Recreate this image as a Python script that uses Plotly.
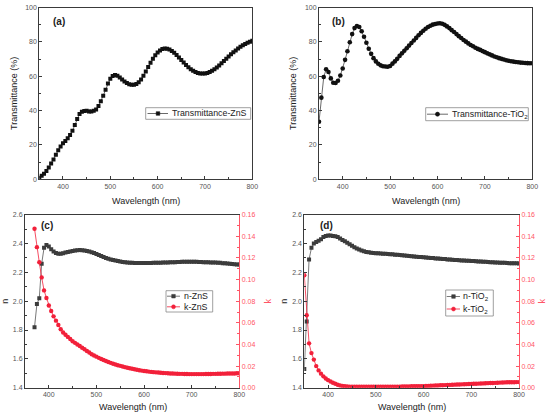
import plotly.graph_objects as go

# ---------------- data ----------------
wl_T = list(range(350, 805, 5))

T_ZnS = [0.8, 2.0, 3.2, 4.8, 6.8, 9.1, 11.5, 14.2, 16.9, 19.0,
         21.0, 22.2, 23.9, 25.8, 28.2, 31.6, 35.0, 38.0, 39.3, 39.7,
         39.8, 39.5, 39.4, 39.8, 40.6, 42.6, 45.4, 48.6, 52.1, 55.7,
         58.5, 60.1, 60.7, 60.3, 59.2, 58.1, 56.9, 56.0, 55.3, 55.0,
         55.0, 55.5, 56.5, 58.1, 60.2, 62.7, 65.3, 67.8, 70.2, 72.2,
         73.8, 75.0, 75.8, 76.1, 76.0, 75.5, 74.7, 73.6, 72.3, 70.9,
         69.4, 67.9, 66.5, 65.2, 64.1, 63.1, 62.4, 61.9, 61.6, 61.5,
         61.6, 61.9, 62.4, 63.1, 64.0, 65.0, 66.2, 67.5, 68.8, 70.1,
         71.4, 72.7, 73.9, 75.0, 76.1, 77.1, 78.0, 78.8, 79.5, 80.1,
         80.6]

T_TiO2 = [33.5, 47.5, 59.5, 64.0, 62.4, 58.7, 56.2, 56.0, 57.3, 60.4,
          64.5, 69.5, 74.5, 79.8, 84.5, 88.0, 89.2, 88.6, 86.2, 83.0,
          79.5, 76.0, 73.0, 70.5, 68.6, 67.2, 66.3, 65.8, 65.6, 65.5,
          65.9, 67.3, 68.6, 70.1, 71.8, 73.3, 74.8, 76.3, 77.8, 79.3,
          80.8, 82.3, 83.8, 85.2, 86.5, 87.6, 88.6, 89.4, 90.0, 90.4,
          90.7, 90.8, 90.5, 89.9, 89.0, 88.0, 86.8, 85.7, 84.5, 83.3,
          82.2, 81.1, 80.1, 79.1, 78.2, 77.4, 76.6, 75.9, 75.3, 74.6,
          74.0, 73.3, 72.7, 72.1, 71.5, 71.0, 70.5, 70.1, 69.7, 69.3,
          69.0, 68.7, 68.5, 68.3, 68.1, 67.9, 67.8, 67.7, 67.6, 67.5,
          67.5]

wl_ZnS = list(range(370, 805, 5))
n_ZnS = [1.82, 1.98, 2.02, 2.26, 2.37, 2.39, 2.38, 2.36, 2.345, 2.335,
         2.33, 2.33, 2.333, 2.337, 2.341, 2.345, 2.349, 2.352, 2.354, 2.355,
         2.354, 2.352, 2.349, 2.345, 2.340, 2.334, 2.327, 2.320, 2.313, 2.306,
         2.300, 2.295, 2.290, 2.286, 2.282, 2.278, 2.275, 2.272, 2.270, 2.268,
         2.267, 2.266, 2.265, 2.265, 2.265, 2.265, 2.265, 2.265, 2.265, 2.265,
         2.266, 2.266, 2.267, 2.267, 2.268, 2.268, 2.269, 2.270, 2.270, 2.271,
         2.272, 2.272, 2.273, 2.273, 2.273, 2.273, 2.273, 2.273, 2.273, 2.272,
         2.272, 2.271, 2.271, 2.270, 2.269, 2.269, 2.268, 2.267, 2.266, 2.264,
         2.263, 2.261, 2.260, 2.258, 2.257, 2.255, 2.254]
k_ZnS = [0.147, 0.130, 0.116, 0.102, 0.090, 0.083, 0.076, 0.071, 0.066, 0.062,
         0.058, 0.054, 0.051, 0.049, 0.047, 0.045, 0.043, 0.0415, 0.040, 0.0385,
         0.037, 0.0355, 0.034, 0.0325, 0.031, 0.0298, 0.0287, 0.0276, 0.0266, 0.0256,
         0.0247, 0.0238, 0.023, 0.0222, 0.0215, 0.0208, 0.0202, 0.0196, 0.019, 0.0185,
         0.018, 0.0175, 0.017, 0.0166, 0.0162, 0.0158, 0.0155, 0.0152, 0.0149, 0.0146,
         0.0144, 0.0142, 0.014, 0.0138, 0.0136, 0.0135, 0.0133, 0.0132, 0.0131, 0.013,
         0.0129, 0.0128, 0.0128, 0.0127, 0.0127, 0.0126, 0.0126, 0.0126, 0.0126, 0.0126,
         0.0126, 0.0126, 0.0127, 0.0127, 0.0127, 0.0128, 0.0128, 0.0129, 0.0129, 0.013,
         0.013, 0.0131, 0.0131, 0.0132, 0.0132, 0.0133, 0.0134]

wl_TiO2 = list(range(350, 805, 5))
n_TiO2 = [1.53, 1.86, 2.29, 2.37, 2.40, 2.41, 2.42, 2.43, 2.445, 2.453,
          2.455, 2.455, 2.453, 2.45, 2.445, 2.435, 2.425, 2.415, 2.405, 2.395,
          2.385, 2.375, 2.366, 2.358, 2.351, 2.346, 2.342, 2.339, 2.336, 2.334,
          2.333, 2.332, 2.331, 2.33, 2.329, 2.328, 2.326, 2.325, 2.323, 2.322,
          2.32, 2.318, 2.317, 2.315, 2.313, 2.312, 2.31, 2.309, 2.307, 2.306,
          2.305, 2.303, 2.302, 2.3, 2.299, 2.297, 2.296, 2.294, 2.293, 2.292,
          2.29, 2.289, 2.288, 2.286, 2.285, 2.284, 2.283, 2.282, 2.281, 2.28,
          2.279, 2.278, 2.277, 2.276, 2.275, 2.274, 2.273, 2.272, 2.271, 2.27,
          2.269, 2.268, 2.267, 2.266, 2.266, 2.265, 2.264, 2.264, 2.263, 2.263,
          2.262]
k_TiO2 = [0.104, 0.067, 0.041, 0.032, 0.026, 0.020, 0.016, 0.013, 0.0105, 0.0085,
          0.007, 0.0058, 0.0046, 0.0036, 0.0027, 0.002, 0.0016, 0.0013, 0.0011, 0.001,
          0.001, 0.001, 0.001, 0.001, 0.001, 0.001, 0.001, 0.001, 0.001, 0.001,
          0.001, 0.001, 0.001, 0.001, 0.001, 0.001, 0.001, 0.001, 0.001, 0.001,
          0.001, 0.0011, 0.0011, 0.0012, 0.0012, 0.0013, 0.0013, 0.0014, 0.0014, 0.0015,
          0.0015, 0.0016, 0.0017, 0.0018, 0.0019, 0.002, 0.0021, 0.0022, 0.0023, 0.0024,
          0.0025, 0.0026, 0.0027, 0.0028, 0.0029, 0.003, 0.0031, 0.0032, 0.0033, 0.0034,
          0.0035, 0.0036, 0.0037, 0.0038, 0.0039, 0.004, 0.0041, 0.0042, 0.0043, 0.0044,
          0.0045, 0.0046, 0.0047, 0.0048, 0.0049, 0.005, 0.005, 0.0051, 0.0051, 0.0052,
          0.0052]

x_ticks = [400, 500, 600, 700, 800]

name_a = "Transmittance-ZnS"
name_b = "Transmittance-TiO<sub>2</sub>"
name_cn, name_ck = "n-ZnS", "k-ZnS"
name_dn, name_dk = "n-TiO<sub>2</sub>", "k-TiO<sub>2</sub>"

# ---------------- style ----------------
W, H = 550, 416
FONT = "Liberation Sans, Arial, sans-serif"
FRAME = "#3a3a3a"
TICKC = "#555555"
RED = "#f2203a"
REDAX = "#ff5566"
BLACK = "#111111"
NGRAY = "#3c3c3c"
LGRAY = "#555555"
TITLEC = "#222222"


def dx(a, b):
    return [a / W, b / W]


def dy(top, bottom):
    return [1 - bottom / H, 1 - top / H]


fig = go.Figure()

fig.add_trace(go.Scatter(x=wl_T, y=T_ZnS, mode="lines+markers", name=name_a,
                         line=dict(color="#444444", width=0.8),
                         marker=dict(symbol="square", size=4, color=BLACK),
                         xaxis="x", yaxis="y"))
fig.add_trace(go.Scatter(x=wl_T, y=T_TiO2, mode="lines+markers", name=name_b,
                         line=dict(color="#444444", width=0.8),
                         marker=dict(symbol="circle", size=4.6, color=BLACK),
                         xaxis="x2", yaxis="y2"))
fig.add_trace(go.Scatter(x=wl_ZnS, y=n_ZnS, mode="lines+markers", name=name_cn,
                         line=dict(color=LGRAY, width=0.8),
                         marker=dict(symbol="square", size=4, color=NGRAY),
                         xaxis="x3", yaxis="y3"))
fig.add_trace(go.Scatter(x=wl_ZnS, y=k_ZnS, mode="lines+markers", name=name_ck,
                         line=dict(color=RED, width=0.8),
                         marker=dict(symbol="circle", size=4.4, color=RED),
                         xaxis="x3", yaxis="y5"))
fig.add_trace(go.Scatter(x=wl_TiO2, y=n_TiO2, mode="lines+markers", name=name_dn,
                         line=dict(color=LGRAY, width=0.8),
                         marker=dict(symbol="square", size=4, color=NGRAY),
                         xaxis="x4", yaxis="y4"))
fig.add_trace(go.Scatter(x=wl_TiO2, y=k_TiO2, mode="lines+markers", name=name_dk,
                         line=dict(color=RED, width=0.8),
                         marker=dict(symbol="circle", size=4.4, color=RED),
                         xaxis="x4", yaxis="y6"))


def xax(domain, anchor):
    return dict(domain=domain, anchor=anchor, range=[350, 800], tickvals=x_ticks,
                showline=True, linecolor=FRAME, linewidth=1, mirror=True,
                ticks="inside", ticklen=3, tickcolor=FRAME,
                minor=dict(ticks="inside", ticklen=2, tickcolor=FRAME, tick0=350, dtick=50),
                tickfont=dict(size=7, color=TICKC, family=FONT),
                showgrid=False, zeroline=False, fixedrange=True, automargin=False)


def yax(domain, anchor, rng, dtick, mdtick, fmt, title, standoff, mirror=True, color=FRAME,
        tcolor=TICKC, side="left", overlay=None, titlec=TITLEC):
    d = dict(domain=domain, anchor=anchor, range=rng, dtick=dtick, tick0=rng[0], tickformat=fmt,
             showline=True, linecolor=color, linewidth=1, mirror=mirror, side=side,
             ticks="inside", ticklen=3, tickcolor=color,
             minor=dict(ticks="inside", ticklen=2, tickcolor=color, dtick=mdtick, tick0=rng[0]),
             tickfont=dict(size=7, color=tcolor, family=FONT),
             title=dict(text=title, standoff=standoff, font=dict(size=9, color=titlec, family=FONT)),
             showgrid=False, zeroline=False, fixedrange=True, automargin=False)
    if overlay:
        d["overlaying"] = overlay
    return d


dA = dx(39.3, 252.3)
dB = dx(319.0, 532.3)
dC = dx(25.0, 239.3)
dD = dx(304.3, 519.0)
yTop = dy(7.5, 179.2)
yBot = dy(214.7, 387.7)

fig.update_layout(
    width=W, height=H,
    margin=dict(l=0, r=0, t=0, b=0),
    paper_bgcolor="white", plot_bgcolor="white",
    font=dict(family=FONT, color="#222222"),
    showlegend=False,
    xaxis=xax(dA, "y"),
    yaxis=yax(yTop, "x", [0, 100], 20, 10, "d", "Transmittance (%)", 6),
    xaxis2=xax(dB, "y2"),
    yaxis2=yax(yTop, "x2", [0, 100], 20, 10, "d", "Transmittance (%)", 6),
    xaxis3=xax(dC, "y3"),
    yaxis3=yax(yBot, "x3", [1.4, 2.6], 0.2, 0.1, ".1f", "n", 3, mirror=False),
    yaxis5=yax(yBot, "x3", [0, 0.16], 0.02, 0.01, ".2f", "k", 10, mirror=False, color=REDAX,
               tcolor=REDAX, side="right", overlay="y3", titlec=REDAX),
    xaxis4=xax(dD, "y4"),
    yaxis4=yax(yBot, "x4", [1.4, 2.6], 0.2, 0.1, ".1f", "n", 3, mirror=False),
    yaxis6=yax(yBot, "x4", [0, 0.16], 0.02, 0.01, ".2f", "k", 4.5, mirror=False, color=REDAX,
               tcolor=REDAX, side="right", overlay="y4", titlec=REDAX),
)

ann = []
shapes = []


def px(x):
    return x / W


def py(y):
    return 1 - y / H


def text(x, y, s, size=9, color="#222222", bold=False, xanchor="center"):
    ann.append(dict(x=px(x), y=py(y), xref="paper", yref="paper", text=("<b>%s</b>" % s) if bold else s,
                    showarrow=False, xanchor=xanchor, yanchor="middle",
                    font=dict(size=size, color=color, family=FONT)))


def legend_box(x0, x1, y0, y1):
    shapes.append(dict(type="rect", xref="paper", yref="paper", x0=px(x0), x1=px(x1), y0=py(y1), y1=py(y0),
                       line=dict(color="#888888", width=0.8), fillcolor="white", layer="above"))


def legend_item(l0, l1, yc, mx, symbol, mcolor, lcolor, label, tx, msize):
    shapes.append(dict(type="line", xref="paper", yref="paper", x0=px(l0), x1=px(l1), y0=py(yc), y1=py(yc),
                       line=dict(color=lcolor, width=0.8), layer="above"))
    h = msize / 2
    shapes.append(dict(type="rect" if symbol == "square" else "circle", xref="paper", yref="paper",
                       x0=px(mx - h), x1=px(mx + h), y0=py(yc + h), y1=py(yc - h),
                       line=dict(color=mcolor, width=0.5), fillcolor=mcolor, layer="above"))
    text(tx, yc, label, size=8.8, xanchor="left")


# legends
legend_box(145.7, 250.7, 107.7, 119.3)
legend_item(147.5, 168.0, 113.5, 158.0, "square", BLACK, "#444444", name_a, 170.0, 3.6)

legend_box(425.7, 528.3, 107.7, 120.7)
legend_item(427.0, 448.0, 114.2, 437.5, "circle", BLACK, "#444444", name_b, 450.0, 4.2)

legend_box(166.0, 212.7, 290.7, 312.0)
legend_item(167.0, 180.0, 296.2, 173.5, "square", NGRAY, LGRAY, name_cn, 181.5, 3.6)
legend_item(167.0, 180.0, 306.8, 173.5, "circle", RED, RED, name_ck, 181.5, 4.0)

legend_box(445.7, 493.3, 290.0, 316.0)
legend_item(446.7, 460.0, 296.5, 453.5, "square", NGRAY, LGRAY, name_dn, 460.5, 3.6)
legend_item(446.7, 460.0, 309.0, 453.5, "circle", RED, RED, name_dk, 460.5, 4.0)

# panel labels
text(50.5, 21.7, "(a)", size=10, bold=True, xanchor="left")
text(330, 21.7, "(b)", size=10, bold=True, xanchor="left")
text(39, 225.7, "(c)", size=10, bold=True, xanchor="left")
text(318.3, 225.5, "(d)", size=10, bold=True, xanchor="left")
# x titles
text(145.8, 201, "Wavelength (nm)")
text(425.8, 200.7, "Wavelength (nm)")
text(132.5, 407, "Wavelength (nm)")
text(412, 407, "Wavelength (nm)")

fig.update_layout(annotations=ann, shapes=shapes)

fig.write_html("out.html", config={"displayModeBar": False, "staticPlot": True},
               post_script="document.body.style.margin='0px';document.body.style.padding='0px';")
